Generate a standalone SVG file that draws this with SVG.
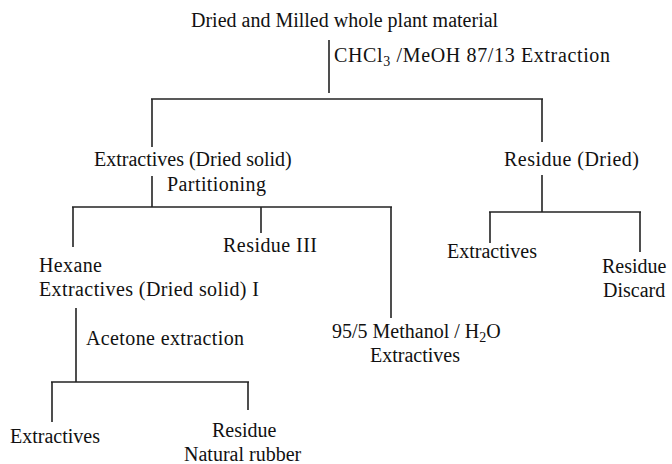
<svg xmlns="http://www.w3.org/2000/svg" width="672" height="464" viewBox="0 0 672 464">
<style>
  text { font-family: "Liberation Serif", "Times New Roman", serif; font-size: 20px; fill: #111; }
  .sub { font-size: 14px; }
  #connectors line { stroke: #222; stroke-width: 1.6; fill: none; }
</style>
<rect width="672" height="464" fill="#fff"/>
<g id="connectors">
  <line x1="329" y1="40" x2="329" y2="93"/>
  <line x1="151" y1="99" x2="543" y2="99"/>
  <line x1="152" y1="99" x2="152" y2="147"/>
  <line x1="542" y1="99" x2="542" y2="142"/>
  <line x1="152" y1="176" x2="152" y2="207"/>
  <line x1="72" y1="207" x2="392" y2="207"/>
  <line x1="73" y1="207" x2="73" y2="247"/>
  <line x1="261" y1="207" x2="261" y2="233"/>
  <line x1="391" y1="207" x2="391" y2="318"/>
  <line x1="542" y1="175" x2="542" y2="212"/>
  <line x1="489" y1="212" x2="641" y2="212"/>
  <line x1="490" y1="212" x2="490" y2="243"/>
  <line x1="640" y1="212" x2="640" y2="252"/>
  <line x1="76" y1="308" x2="76" y2="382"/>
  <line x1="51" y1="382" x2="249" y2="382"/>
  <line x1="52" y1="382" x2="52" y2="422"/>
  <line x1="248" y1="382" x2="248" y2="410"/>
</g>
<g id="n-start"><text x="191" y="27">Dried and Milled whole plant material</text></g>
<g id="e-chcl3"><text x="334" y="62" textLength="276" lengthAdjust="spacing">CHCl<tspan class="sub" dy="4">3</tspan><tspan dy="-4"> /MeOH 87/13 Extraction</tspan></text></g>
<g id="n-extractives"><text x="94" y="166">Extractives (Dried solid)</text></g>
<g id="e-partitioning"><text x="167" y="191" textLength="99" lengthAdjust="spacing">Partitioning</text></g>
<g id="n-residue-dried"><text x="504" y="166" textLength="135" lengthAdjust="spacing">Residue (Dried)</text></g>
<g id="n-residue-iii"><text x="223" y="252" textLength="94" lengthAdjust="spacing">Residue III</text></g>
<g id="n-hexane"><text x="39" y="272" textLength="63" lengthAdjust="spacing">Hexane</text><text x="39" y="296" textLength="220" lengthAdjust="spacing">Extractives (Dried solid) I</text></g>
<g id="n-methanol"><text x="332" y="338">95/5 Methanol / H<tspan class="sub" dy="4">2</tspan><tspan dy="-4">O</tspan></text><text x="370" y="362">Extractives</text></g>
<g id="e-acetone"><text x="86" y="345" textLength="158" lengthAdjust="spacing">Acetone extraction</text></g>
<g id="n-extractives-b"><text x="10" y="443">Extractives</text></g>
<g id="n-rubber"><text x="212" y="437">Residue</text><text x="184" y="461">Natural rubber</text></g>
<g id="n-extractives-r"><text x="447" y="258">Extractives</text></g>
<g id="n-discard"><text x="602" y="273">Residue</text><text x="603" y="297">Discard</text></g>
</svg>
